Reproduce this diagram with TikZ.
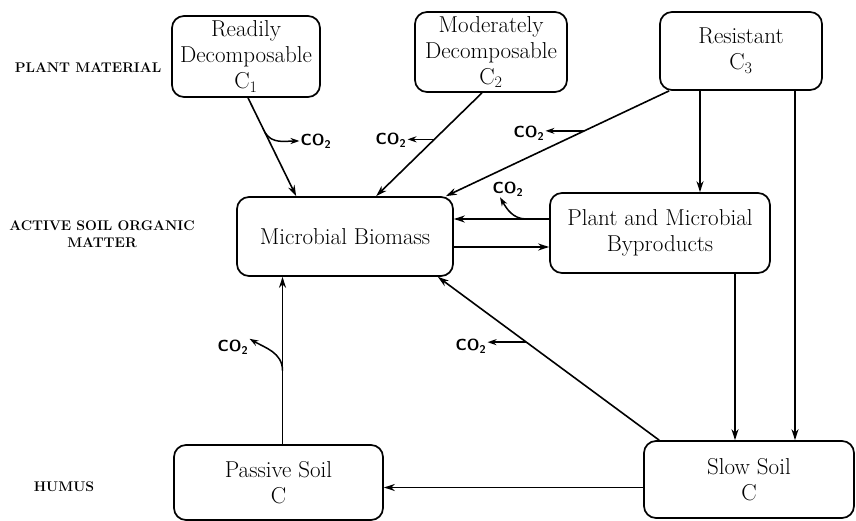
\documentclass[tikz,border=0pt]{standalone}
\usepackage{fontspec}
\usetikzlibrary{arrows.meta}
\tikzstyle{box}=[draw,line width=1.7pt,rounded corners=12pt,align=center,
                 inner sep=2pt,font=\fontsize{23}{26}\selectfont]
\tikzstyle{flow}=[-{Stealth[length=11pt,width=7pt]},line width=1.6pt]
\tikzstyle{loss}=[-{Stealth[length=9pt,width=6pt]},line width=1.5pt]
\tikzstyle{co2}=[inner sep=1pt,font=\fontsize{16}{18}\selectfont\sffamily\bfseries]
\tikzstyle{layer}=[align=center,font=\fontsize{14}{17}\selectfont\bfseries]

\begin{document}
\begin{tikzpicture}[x=1pt,y=1pt]
  \useasboundingbox (0,0) rectangle (856,-521);

  % pools
  \node[box,minimum width=148pt,minimum height=81pt] (c1) at (246,-56.5)
    {Readily\\Decomposable\\C\textsubscript{1}};
  \node[box,minimum width=152pt,minimum height=80pt] (c2) at (491,-52)
    {Moderately\\Decomposable\\C\textsubscript{2}};
  \node[box,minimum width=162pt,minimum height=78pt] (c3) at (741,-51)
    {Resistant\\C\textsubscript{3}};
  \node[box,minimum width=216pt,minimum height=79pt] (mb) at (345,-236.5)
    {Microbial Biomass};
  \node[box,minimum width=220pt,minimum height=80pt] (pmb) at (660,-233)
    {Plant and Microbial\\Byproducts};
  \node[box,minimum width=209pt,minimum height=75pt] (pas) at (278.5,-482.5)
    {Passive Soil\\C};
  \node[box,minimum width=210pt,minimum height=77pt] (slow) at (749,-479.5)
    {Slow Soil\\C};

  % layers
  \node[layer] (plant) at (88,-68) {PLANT MATERIAL};
  \node[layer] (active) at (102,-234) {ACTIVE SOIL ORGANIC\\MATTER};
  \node[layer] (humus) at (64,-487) {HUMUS};

  % transfers
  \draw[flow] ([xshift=2pt]c1.south) -- coordinate[pos=0.35] (r1)
    ([xshift=60pt]mb.north west);
  \draw[flow] ([xshift=-9pt]c2.south) -- coordinate[pos=0.45] (r2)
    ([xshift=140pt]mb.north west);
  \draw[flow] ([xshift=10pt]c3.south west) -- coordinate[pos=0.38] (r3)
    ([xshift=-8pt]mb.north east);
  \draw[flow] ([xshift=40pt]pmb.north |- c3.south) -- ([xshift=40pt]pmb.north);
  \draw[flow] ([xshift=46pt]slow.north |- c3.south) -- ([xshift=46pt]slow.north);
  \draw[flow] ([yshift=14pt]pmb.west) -- coordinate[pos=0.24] (r4)
    ([yshift=14pt]pmb.west -| mb.east);
  \draw[flow] ([yshift=-14pt]pmb.west -| mb.east) -- ([yshift=-14pt]pmb.west);
  \draw[flow] ([xshift=75pt]pmb.south) -- ([xshift=75pt]pmb.south |- slow.north);
  \draw[flow] ([xshift=16pt]slow.north west) -- coordinate[pos=0.6] (r5)
    ([xshift=-16pt]mb.south east);
  \draw[flow] ([yshift=-8pt]slow.west) -- ([yshift=-8pt]slow.west -| pas.east);
  \draw[flow] ([xshift=4pt]pas.north) -- coordinate[pos=0.44] (r6)
    ([xshift=4pt]pas.north |- mb.south);

  % respiration
  \node[co2] (k1) at (316,-141) {CO\textsubscript{2}};
  \node[co2] (k2) at (391,-140) {CO\textsubscript{2}};
  \node[co2] (k3) at (529,-133) {CO\textsubscript{2}};
  \node[co2] (k4) at (508,-189) {CO\textsubscript{2}};
  \node[co2] (k5) at (471,-346) {CO\textsubscript{2}};
  \node[co2] (k6) at (233,-347) {CO\textsubscript{2}};

  \draw[loss] (r1) to[out=-60,in=180] (k1.west);
  \draw[loss] (r2) -- (r2 -| k2.east);
  \draw[loss] (r3) -- (r3 -| k3.east);
  \draw[loss] (r4) to[out=180,in=-60] ([xshift=-8pt]k4.south);
  \draw[loss] (r5) -- (r5 -| k5.east);
  \draw[loss] (r6) to[out=90,in=-30] (k6.north east);
\end{tikzpicture}
\end{document}
